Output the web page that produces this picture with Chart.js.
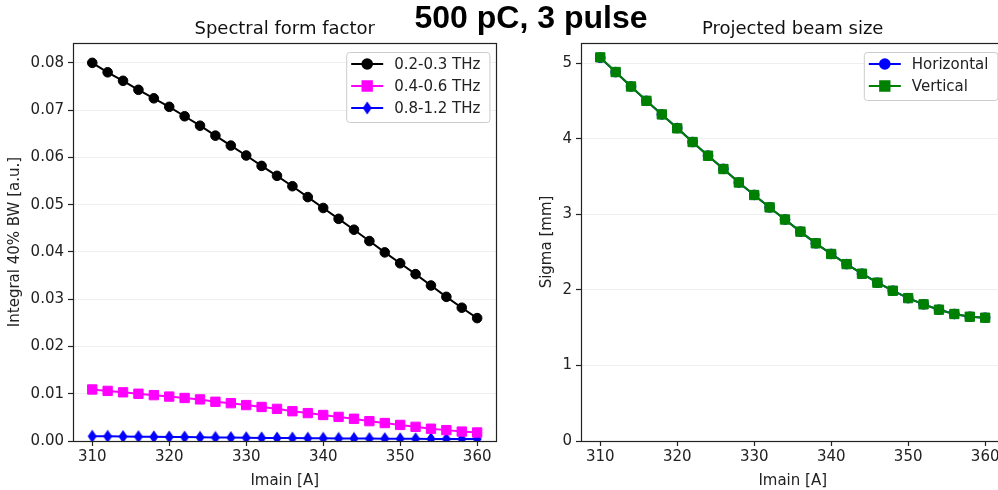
<!DOCTYPE html>
<html><head><meta charset="utf-8">
<script src="https://cdn.jsdelivr.net/npm/chart.js@4/dist/chart.umd.min.js"></script>
<style>
html,body{margin:0;padding:0;background:#fff;overflow:hidden;width:998px;height:490px;}
#sup{position:absolute;left:281px;width:500px;top:-1px;text-align:center;font:bold 32px "Liberation Sans",Arial,sans-serif;color:#000;line-height:36px;}
#w1{position:absolute;left:0;top:0;width:504px;height:490px;}
#w2{position:absolute;left:500px;top:0;width:512px;height:490px;}
</style></head><body>
<div id="w1"><canvas id="c1"></canvas></div>
<div id="w2"><canvas id="c2"></canvas></div>
<div id="sup">500 pC, 3 pulse</div>
<script>
const imain = [310,312,314,316,318,320,322,324,326,328,330,332,334,336,338,340,342,344,346,348,350,352,354,356,358,360];
const band1 = [0.0800,0.0780,0.0762,0.0743,0.0725,0.0707,0.0687,0.0667,0.0646,0.0625,0.0604,0.0582,0.0561,0.0539,0.0516,0.0493,0.0470,0.0447,0.0423,0.0399,0.0376,0.0353,0.0329,0.0305,0.0282,0.0260];
const band2 = [0.0109,0.0106,0.0103,0.0100,0.0097,0.0094,0.0091,0.0088,0.0083,0.0080,0.0076,0.0072,0.0068,0.0063,0.0059,0.0055,0.0051,0.0047,0.0042,0.0038,0.0034,0.0030,0.0026,0.0023,0.0020,0.0018];
const band3 = [0.00100,0.00098,0.00095,0.00092,0.00088,0.00085,0.00082,0.00078,0.00075,0.00072,0.00069,0.00066,0.00063,0.00061,0.00059,0.00057,0.00055,0.00053,0.00051,0.00049,0.00047,0.00046,0.00044,0.00043,0.00042,0.00041];
const sigmaH = [5.07,4.88,4.69,4.50,4.32,4.14,3.955,3.775,3.60,3.42,3.255,3.09,2.93,2.77,2.615,2.475,2.34,2.213,2.094,1.988,1.89,1.808,1.737,1.68,1.644,1.631];
const sigmaV = [5.075,4.881,4.69,4.50,4.32,4.136,3.955,3.774,3.598,3.42,3.254,3.09,2.93,2.77,2.615,2.474,2.34,2.213,2.094,1.988,1.89,1.808,1.737,1.68,1.644,1.631];
const xTicks = [310,320,330,340,350,360];
const yTicksLeft = [0,0.01,0.02,0.03,0.04,0.05,0.06,0.07,0.08];
const yTicksRight = [0,1,2,3,4,5];
const labels1 = ['0.2-0.3 THz','0.4-0.6 THz','0.8-1.2 THz'];
const labels2 = ['Horizontal','Vertical'];

const FONT = '"DejaVu Sans", sans-serif';
Chart.defaults.font.family = FONT;
Chart.defaults.color = '#222';

// thin diamond marker
const dia = document.createElement('canvas');
dia.width = 10; dia.height = 14;
(function(){const c=dia.getContext('2d');c.fillStyle='#0000ff';c.beginPath();c.moveTo(5,0.5);c.lineTo(9.5,7);c.lineTo(5,13.5);c.lineTo(0.5,7);c.closePath();c.fill();})();

const framePlugin = {
  id:'frame',
  afterDatasetsDraw(chart){
    const a=chart.chartArea, ctx=chart.ctx;
    ctx.save(); ctx.strokeStyle='#222'; ctx.lineWidth=1.2;
    ctx.strokeRect(Math.round(a.left)+0.5, Math.round(a.top)+0.5, Math.round(a.right-a.left), Math.round(a.bottom-a.top));
    ctx.restore();
  }
};
const legendPlugin = {
  id:'mlegend',
  afterDraw(chart, args, opts){
    const a=chart.chartArea, ctx=chart.ctx;
    const ds=chart.data.datasets;
    const order = opts.order || ds.map((d,i)=>i);
    ctx.save();
    ctx.font = '15px '+FONT;
    let tw=0; order.forEach(i=>{tw=Math.max(tw,ctx.measureText(ds[i].label).width);});
    const rowH=22, w=50+tw+7, h=order.length*rowH+4;
    const x0=a.right-7-w, y0=a.top+9;
    ctx.fillStyle='rgba(255,255,255,0.85)'; ctx.strokeStyle='#cccccc'; ctx.lineWidth=1;
    ctx.beginPath(); if(ctx.roundRect) ctx.roundRect(x0+0.5,y0+0.5,w,h,3); else ctx.rect(x0+0.5,y0+0.5,w,h);
    ctx.fill(); ctx.stroke();
    order.forEach((i,k)=>{
      const d=ds[i]; const cy=y0+12+k*rowH;
      ctx.strokeStyle=d.borderColor; ctx.lineWidth=2;
      ctx.beginPath(); ctx.moveTo(x0+5,cy); ctx.lineTo(x0+37,cy); ctx.stroke();
      ctx.fillStyle=d.pointBackgroundColor; ctx.strokeStyle=d.pointBorderColor;
      Chart.helpers.drawPoint(ctx,{pointStyle:d.pointStyle,radius:d.pointRadius,rotation:0,borderWidth:d.pointBorderWidth},x0+21,cy);
      ctx.fillStyle='#222'; ctx.textBaseline='middle'; ctx.textAlign='left';
      ctx.fillText(d.label,x0+48,cy+1);
    });
    ctx.restore();
  }
};

function mkOptions(title, ymax, yticks, yfmt, ytitle, yw, padLeft, padRight){
  return {
    responsive:false, animation:false, devicePixelRatio:1,
    layout:{padding:{left:padLeft,right:padRight,top:0,bottom:0}},
    plugins:{
      legend:{display:false}, tooltip:{enabled:false},
      title:{display:true,text:title,fullSize:false,color:'#111',font:{size:18,weight:'normal',family:FONT},padding:{top:19,bottom:2.4}},
    },
    scales:{
      x:{type:'linear',min:307.5,max:362.5,
        afterBuildTicks(s){s.ticks=xTicks.map(v=>({value:v}));},
        afterFit(s){s.height=49;s.paddingLeft=0;s.paddingRight=0;},
        grid:{drawOnChartArea:false,tickLength:5,tickColor:'#222',tickWidth:1.2},
        border:{display:false},
        ticks:{font:{size:15},color:'#222',padding:2,maxRotation:0,callback:v=>String(v)},
        title:{display:true,text:'Imain [A]',font:{size:15},color:'#222',padding:{top:0,bottom:0}}
      },
      y:{type:'linear',min:0,max:ymax,
        afterBuildTicks(s){s.ticks=yticks.map(v=>({value:v}));},
        afterFit(s){s.width=yw;s.paddingTop=0;s.paddingBottom=0;},
        grid:{color:'#efefef',lineWidth:1,tickLength:5,tickColor:'#222',tickWidth:1.2},
        border:{display:false},
        ticks:{font:{size:15},color:'#222',padding:4,callback:yfmt},
        title:{display:true,text:ytitle,font:{size:15},color:'#222',padding:{top:1,bottom:0}}
      }
    }
  };
}

function series(label,data,color,style,radius){
  return {label, data:imain.map((x,i)=>({x,y:data[i]})), borderColor:color, backgroundColor:color,
    pointBackgroundColor:color, pointBorderColor:color, pointStyle:style, pointRadius:radius, pointBorderWidth:1,
    borderWidth:2, tension:0, clip:0, pointHoverRadius:radius};
}

const c1 = document.getElementById('c1'); c1.width=504; c1.height=490;
new Chart(c1,{
  type:'line',
  data:{datasets:[
    series(labels1[0],band1,'#000000','circle',4.8),
    series(labels1[1],band2,'#ff00ff','rect',6.6),
    series(labels1[2],band3,'#0000ff',dia,5)
  ]},
  options:mkOptions('Spectral form factor',0.0842,yTicksLeft,v=>v.toFixed(2),'Integral 40% BW [a.u.]',68,5,0),
  plugins:[framePlugin,legendPlugin]
});

const c2 = document.getElementById('c2'); c2.width=512; c2.height=490;
const dsH = series(labels2[0],sigmaH,'#0000ff','circle',4.8); dsH.order=1;
const dsV = series(labels2[1],sigmaV,'#008000','rect',6.6); dsV.order=0;
new Chart(c2,{
  type:'line',
  data:{datasets:[dsH,dsV]},
  options:mkOptions('Projected beam size',5.265,yTicksRight,v=>String(v),'Sigma [mm]',44,37,0),
  plugins:[framePlugin,legendPlugin]
});
</script>
</body></html>
